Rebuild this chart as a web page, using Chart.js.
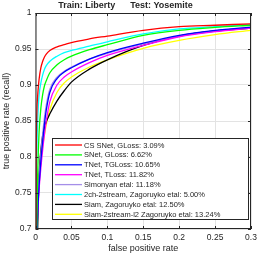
<!DOCTYPE html>
<html>
<head>
<meta charset="utf-8">
<script src="https://cdn.jsdelivr.net/npm/chart.js@4/dist/chart.umd.min.js"></script>
<style>
	html, body { margin: 0; padding: 0; background: #fff; }
	#wrap { width: 257px; height: 255px; }
</style>
</head>
<body>
<div id="wrap"><canvas id="roc" width="257" height="255"></canvas></div>
<script>
// false positive rate grid shared by every curve
const fpr = [0, 0.001, 0.002, 0.003, 0.004, 0.005, 0.0075, 0.01, 0.0125, 0.015, 0.02, 0.03, 0.04, 0.05, 0.075, 0.1, 0.15, 0.2, 0.25, 0.3]

// true positive rate
const csSnetGloss = [0.55, 0.8, 0.865, 0.885, 0.898, 0.908, 0.924, 0.933, 0.939, 0.943, 0.948, 0.953, 0.956, 0.959, 0.964, 0.968, 0.976, 0.981, 0.983, 0.985]
const snetGloss = [0.45, 0.63, 0.72, 0.775, 0.81, 0.835, 0.868, 0.887, 0.899, 0.906, 0.917, 0.928, 0.935, 0.94, 0.949, 0.956, 0.969, 0.976, 0.98, 0.983]
const tnetTGloss = [0.4, 0.62, 0.69, 0.72, 0.742, 0.76, 0.795, 0.822, 0.846, 0.865, 0.89, 0.909, 0.918, 0.924, 0.936, 0.945, 0.958, 0.969, 0.976, 0.9805]
const tnetTloss = [0.4, 0.62, 0.69, 0.72, 0.738, 0.755, 0.785, 0.81, 0.832, 0.85, 0.877, 0.9, 0.911, 0.918, 0.931, 0.941, 0.955, 0.967, 0.974, 0.979]
const simonyan = [0.4, 0.63, 0.7, 0.73, 0.752, 0.77, 0.805, 0.832, 0.855, 0.872, 0.894, 0.911, 0.919, 0.925, 0.936, 0.944, 0.957, 0.968, 0.975, 0.98]
const twoCh2stream = [0.5, 0.74, 0.815, 0.85, 0.872, 0.886, 0.903, 0.914, 0.922, 0.927, 0.933, 0.94, 0.945, 0.948, 0.954, 0.96, 0.971, 0.978, 0.981, 0.984]
const siam = [0.3, 0.55, 0.64, 0.7, 0.745, 0.775, 0.81, 0.83, 0.841, 0.849, 0.86, 0.878, 0.892, 0.904, 0.922, 0.935, 0.955, 0.968, 0.975, 0.979]
const siam2streamL2 = [0.45, 0.69, 0.72, 0.74, 0.756, 0.77, 0.795, 0.815, 0.831, 0.845, 0.866, 0.89, 0.903, 0.911, 0.925, 0.935, 0.951, 0.962, 0.97, 0.976]

const seriesLabels = [
	'CS SNet, GLoss: 3.09%',
	'SNet, GLoss: 6.62%',
	'TNet, TGLoss: 10.65%',
	'TNet, TLoss: 11.82%',
	'Simonyan etal: 11.18%',
	'2ch-2stream, Zagoruyko etal: 5.00%',
	'Siam, Zagoruyko etal: 12.50%',
	'Siam-2stream-l2 Zagoruyko etal: 13.24%',
]
const seriesValues = [csSnetGloss, snetGloss, tnetTGloss, tnetTloss, simonyan, twoCh2stream, siam, siam2streamL2]
const seriesColors = ['#ff0000', '#00ff00', '#0000ff', '#ff00ff', '#a58ee8', '#00ffff', '#000000', '#ffff00']

const xTicks = [0, 0.05, 0.1, 0.15, 0.2, 0.25, 0.3]
const yTicks = [0.7, 0.75, 0.8, 0.85, 0.9, 0.95, 1]

const axisColor = '#262626'
const fontFamily = '"Liberation Sans", Arial, Helvetica, sans-serif'

// MATLAB style box with inward tick marks
const framePlugin = {
	id: 'frame',
	afterDatasetsDraw(chart) {
		const { ctx, chartArea: a, scales } = chart
		ctx.save()
		ctx.strokeStyle = axisColor
		ctx.lineWidth = 1
		ctx.strokeRect(a.left + 0.5, a.top + 0.5, a.right - a.left - 1, a.bottom - a.top - 1)
		ctx.beginPath()
		xTicks.forEach((v) => {
			const x = Math.round(scales.x.getPixelForValue(v)) + 0.5
			ctx.moveTo(x, a.bottom); ctx.lineTo(x, a.bottom - 3)
			ctx.moveTo(x, a.top); ctx.lineTo(x, a.top + 3)
		})
		yTicks.forEach((v) => {
			const y = Math.round(scales.y.getPixelForValue(v)) + 0.5
			ctx.moveTo(a.left, y); ctx.lineTo(a.left + 3, y)
			ctx.moveTo(a.right, y); ctx.lineTo(a.right - 3, y)
		})
		ctx.stroke()
		ctx.restore()
	},
}

// legend drawn inside the axes, lower right
const boxLegendPlugin = {
	id: 'boxLegend',
	afterDraw(chart) {
		const { ctx } = chart
		const left = 52, top = 138, right = 249, bottom = 220
		ctx.save()
		ctx.fillStyle = '#fff'
		ctx.fillRect(left, top, right - left, bottom - top)
		ctx.strokeStyle = axisColor
		ctx.lineWidth = 1
		ctx.strokeRect(left + 0.5, top + 0.5, right - left - 1, bottom - top - 1)
		ctx.font = '7.5px ' + fontFamily
		ctx.textBaseline = 'middle'
		chart.data.datasets.forEach((ds, i) => {
			const y = 145 + i * 9.9
			ctx.strokeStyle = ds.borderColor
			ctx.lineWidth = 1.3
			ctx.beginPath()
			ctx.moveTo(55, y)
			ctx.lineTo(82, y)
			ctx.stroke()
			ctx.fillStyle = axisColor
			ctx.fillText(ds.label, 84, y + 0.5)
		})
		ctx.restore()
	},
}

const ctx = document.getElementById('roc')

const rocChart = new Chart(ctx, {
	type: 'line',
	data: {
		labels: fpr,
		datasets: seriesValues.map((vals, i) => ({
			label: seriesLabels[i],
			data: fpr.map((x, j) => ({ x: x, y: vals[j] })),
			borderColor: seriesColors[i],
			borderWidth: 1.3,
			pointRadius: 0,
			fill: false,
			cubicInterpolationMode: 'monotone',
		})),
	},
	options: {
		responsive: false,
		animation: false,
		events: [],
		layout: { padding: { top: 0, left: 0, right: 6, bottom: 0 } },
		plugins: {
			legend: { display: false },
			tooltip: { enabled: false },
			title: {
				display: true,
				text: 'Train: Liberty      Test: Yosemite',
				color: axisColor,
				font: { family: fontFamily, size: 9, weight: 'bold' },
				padding: { top: 0.5, bottom: 1.7 },
			},
		},
		scales: {
			x: {
				type: 'linear',
				min: 0,
				max: 0.3,
				afterFit(scale) {
					scale.height = 26
					scale.paddingLeft = 0
					scale.paddingRight = 0
				},
				afterBuildTicks(scale) { scale.ticks = xTicks.map((v) => ({ value: v })) },
				ticks: {
					color: axisColor,
					font: { family: fontFamily, size: 8.5 },
					padding: 4,
					maxRotation: 0,
					callback: (v) => String(+v.toFixed(2)),
				},
				grid: { color: '#e3e3e3', drawTicks: false },
				border: { display: false },
				title: {
					display: true,
					text: 'false positive rate',
					color: axisColor,
					font: { family: fontFamily, size: 9 },
					padding: { top: 0, bottom: 1 },
				},
			},
			y: {
				type: 'linear',
				min: 0.7,
				max: 1,
				afterFit(scale) { scale.width = 35.5 },
				afterBuildTicks(scale) { scale.ticks = yTicks.map((v) => ({ value: v })) },
				ticks: {
					color: axisColor,
					font: { family: fontFamily, size: 8.5 },
					padding: 4,
					callback: (v) => String(+v.toFixed(2)),
				},
				grid: { color: '#e3e3e3', drawTicks: false },
				border: { display: false },
				title: {
					display: true,
					text: 'true positive rate (recall)',
					color: axisColor,
					font: { family: fontFamily, size: 9 },
					padding: { top: 1, bottom: 0 },
				},
			},
		},
	},
	plugins: [framePlugin, boxLegendPlugin],
})
</script>
</body>
</html>
